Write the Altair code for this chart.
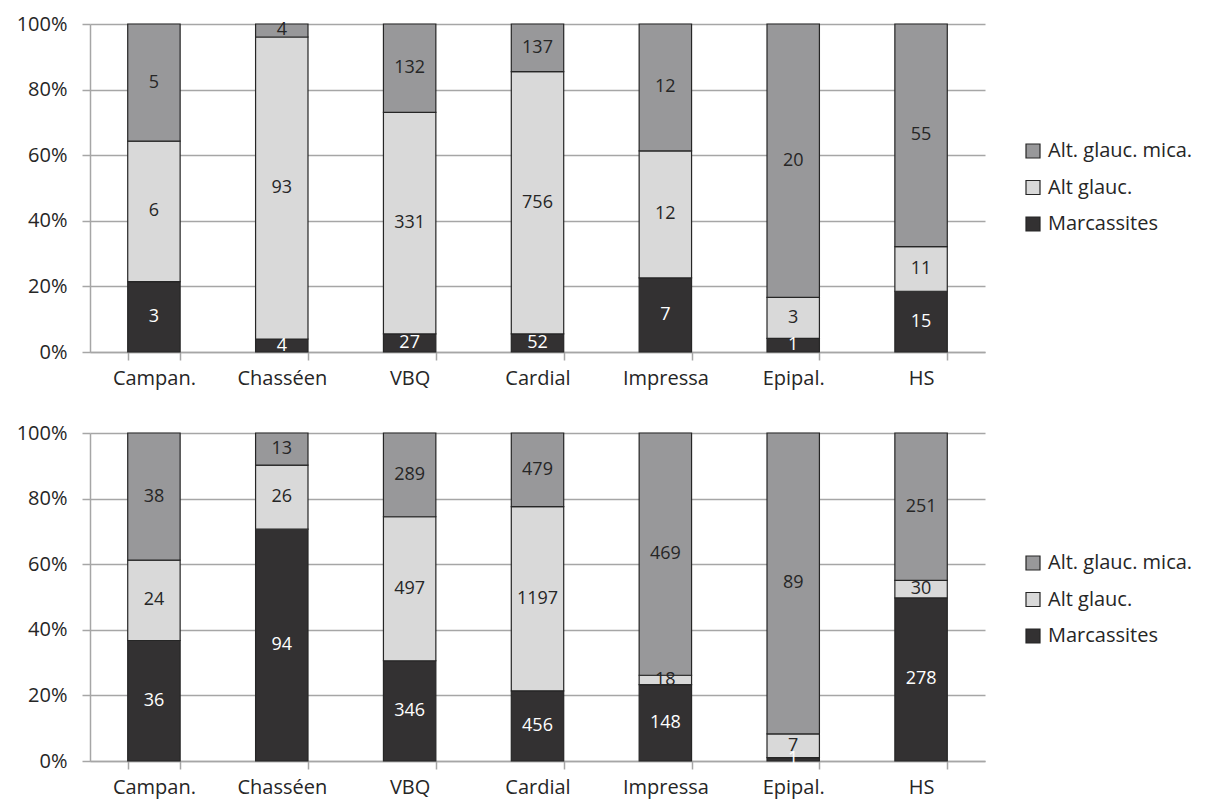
import altair as alt
import pandas as pd

categories = ["Campan.", "Chasséen", "VBQ", "Cardial", "Impressa", "Epipal.", "HS"]
series = ["Marcassites", "Alt glauc.", "Alt. glauc. mica."]

top_marcassites = [3, 4, 27, 52, 7, 1, 15]
top_alt_glauc = [6, 93, 331, 756, 12, 3, 11]
top_alt_glauc_mica = [5, 4, 132, 137, 12, 20, 55]

bot_marcassites = [36, 94, 346, 456, 148, 1, 278]
bot_alt_glauc = [24, 26, 497, 1197, 18, 7, 30]
bot_alt_glauc_mica = [38, 13, 289, 479, 469, 89, 251]

legend_order = ["Alt. glauc. mica.", "Alt glauc.", "Marcassites"]
colors = ["#98989a", "#d9d9d9", "#333132"]
FONT = "Open Sans"


def make_df(m, g, gm):
    rows = []
    for i, c in enumerate(categories):
        for k, (s, vals) in enumerate(zip(series, [m, g, gm])):
            rows.append({"cat": c, "serie": s, "ord": k, "value": vals[i]})
    return pd.DataFrame(rows)


def panel(df, legend_y):
    base = alt.Chart(df).transform_stack(
        stack="value", groupby=["cat"], as_=["y0", "y1"],
        offset="normalize", sort=[alt.SortField("ord", order="ascending")]
    ).transform_calculate(mid="(datum.y0 + datum.y1) / 2")

    x = alt.X("cat:N", sort=categories, title=None,
              scale=alt.Scale(paddingInner=0.59, paddingOuter=0.295),
              axis=alt.Axis(labelAngle=0, labelFontSize=20, labelFont=FONT,
                            labelColor="#262626", tickBand="extent",
                            tickSize=8, tickColor="#a6a6a6", tickWidth=1.5,
                            domainColor="#a6a6a6", domainWidth=1.5,
                            labelPadding=8, grid=False))
    y_scale = alt.Scale(domain=[0, 1])
    bars = base.mark_bar(stroke="#262626", strokeWidth=1.2).encode(
        x=x,
        y=alt.Y("y0:Q", scale=y_scale, title=None,
                axis=alt.Axis(format=".0%", values=[0, 0.2, 0.4, 0.6, 0.8, 1.0],
                              labelFontSize=20, labelFont=FONT, labelColor="#262626",
                              tickSize=8, tickColor="#a6a6a6", tickWidth=1.5,
                              domainColor="#a6a6a6", domainWidth=1.5,
                              gridColor="#a6a6a6", gridWidth=1.5,
                              labelPadding=15)),
        y2="y1:Q",
        color=alt.Color("serie:N", scale=alt.Scale(domain=legend_order, range=colors),
                        legend=alt.Legend(title=None, orient="none", legendX=933, legendY=legend_y,
                                          symbolType="square", symbolSize=196,
                                          symbolStrokeColor="#262626", symbolStrokeWidth=1.2,
                                          labelFontSize=20, labelFont=FONT, labelOffset=5,
                                          labelColor="#262626", rowPadding=16.5,
                                          symbolOpacity=1)),
    )
    texts = base.mark_text(fontSize=18, font=FONT, baseline="middle").encode(
        x=alt.X("cat:N", sort=categories),
        y=alt.Y("mid:Q", scale=y_scale),
        text="value:Q",
        color=alt.condition(alt.datum.serie == "Marcassites",
                            alt.value("white"), alt.value("#262626")),
    )
    return alt.layer(bars, texts).properties(width=895, height=328)


top = panel(make_df(top_marcassites, top_alt_glauc, top_alt_glauc_mica), 117)
bot = panel(make_df(bot_marcassites, bot_alt_glauc, bot_alt_glauc_mica), 120)

chart = alt.vconcat(top, bot, spacing=35).resolve_scale(color="independent").configure_view(
    stroke=None
).properties(padding={"left": 8, "top": 6, "right": 5, "bottom": 5})

chart.save("out.html", embed_options={"renderer": "svg", "actions": False})
